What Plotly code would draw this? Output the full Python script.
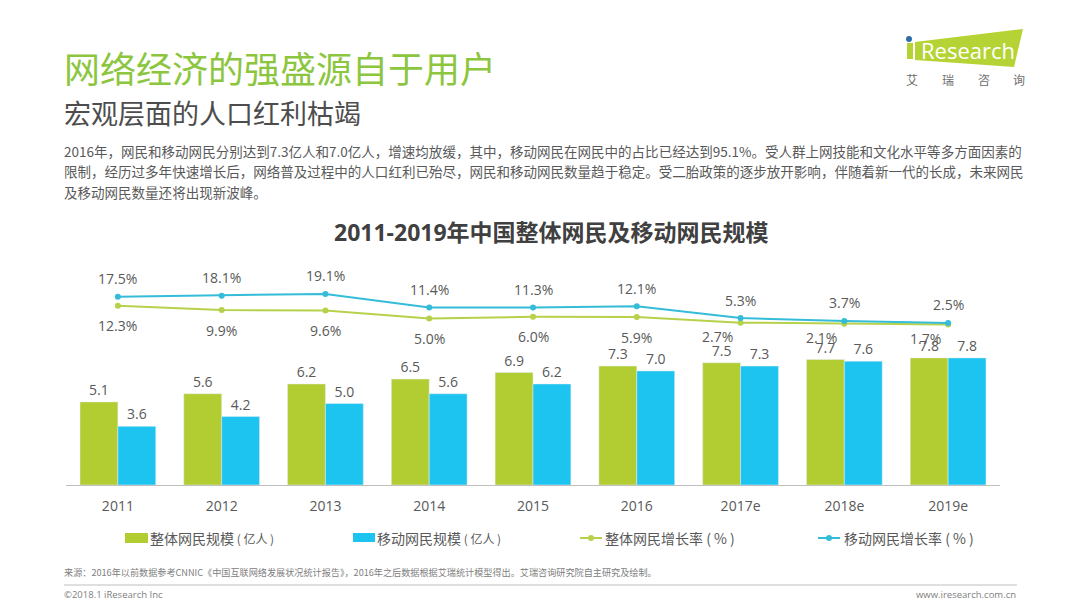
import plotly.graph_objects as go

years = ['2011', '2012', '2013', '2014', '2015', '2016', '2017e', '2018e', '2019e']
total_users = [5.1, 5.6, 6.2, 6.5, 6.9, 7.3, 7.5, 7.7, 7.8]
mobile_users = [3.6, 4.2, 5.0, 5.6, 6.2, 7.0, 7.3, 7.6, 7.8]
total_growth = [12.3, 9.9, 9.6, 5.0, 6.0, 5.9, 2.7, 2.1, 1.7]
mobile_growth = [17.5, 18.1, 19.1, 11.4, 11.3, 12.1, 5.3, 3.7, 2.5]

body_lines = [
    '2016年，网民和移动网民分别达到7.3亿人和7.0亿人，增速均放缓，其中，移动网民在网民中的占比已经达到95.1%。受人群上网技能和文化水平等多方面因素的',
    '限制，经历过多年快速增长后，网络普及过程中的人口红利已殆尽，网民和移动网民数量趋于稳定。受二胎政策的逐步放开影响，伴随着新一代的长成，未来网民',
    '及移动网民数量还将出现新波峰。',
]
legend_names = ['整体网民规模', '移动网民规模', '整体网民增长率', '移动网民增长率']

W, H = 1080, 608
FONT = 'Open Sans, Noto Sans CJK SC, sans-serif'
CJK = 'Noto Sans CJK SC, sans-serif'
GREEN = '#b2cd32'
CYAN = '#1ec4f0'
LINE_GREEN = '#b7d14b'
LINE_CYAN = '#35bcd9'
GREY = '#595959'


def px(x):
    return x / W


def py(y):
    return 1 - y / H


def label(x, y, text, size, color=GREY, anchor='left', family=FONT):
    fig.add_annotation(xref='paper', yref='paper', x=px(x), y=py(y), text=text, showarrow=False,
                       xanchor=anchor, yanchor='middle', font=dict(size=size, color=color, family=family))


def poly(points, color):
    path = 'M' + 'L'.join(f'{px(a):.5f},{py(b):.5f}' for a, b in points) + 'Z'
    fig.add_shape(type='path', xref='paper', yref='paper', path=path, fillcolor=color, line_width=0)


def rect(x0, y0, x1, y1, color):
    fig.add_shape(type='rect', xref='paper', yref='paper', x0=px(x0), x1=px(x1), y0=py(y0), y1=py(y1),
                  fillcolor=color, line_width=0)


fig = go.Figure()

# ------------ bars ------------------
fig.add_trace(go.Bar(x=years, y=total_users, marker_color=GREEN, text=total_users, texttemplate='%{text:.1f}',
                     textposition='outside', cliponaxis=False, textfont=dict(size=14, color=GREY, family=FONT)))
fig.add_trace(go.Bar(x=years, y=mobile_users, marker_color=CYAN, text=mobile_users, texttemplate='%{text:.1f}',
                     textposition='outside', cliponaxis=False, textfont=dict(size=14, color=GREY, family=FONT)))

# ------------ growth lines ------------------
fig.add_trace(go.Scatter(x=years, y=total_growth, yaxis='y2', mode='lines+markers',
                         line=dict(color=LINE_GREEN, width=2), marker=dict(color=LINE_GREEN, size=6)))
fig.add_trace(go.Scatter(x=years, y=mobile_growth, yaxis='y2', mode='lines+markers',
                         line=dict(color=LINE_CYAN, width=2), marker=dict(color=LINE_CYAN, size=6)))

# category position is the index here, strings like '2011' get read as numbers
for i, year in enumerate(years):
    fig.add_annotation(xref='x', yref='y2', x=i, y=mobile_growth[i], text=f'{mobile_growth[i]}%', showarrow=False,
                       yshift=18, font=dict(size=14, color=GREY, family=FONT))
    fig.add_annotation(xref='x', yref='y2', x=i, y=total_growth[i], text=f'{total_growth[i]:.1f}%', showarrow=False,
                       yshift=-14 if i >= 6 else -20, xshift=-23 if i >= 6 else 0,
                       font=dict(size=14, color=GREY, family=FONT))

# ------------ headings and body ------------------
label(62, 67, '网络经济的强盛源自于用户', 36, '#8cc63f', family=CJK)
label(62, 113, '宏观层面的人口红利枯竭', 27, '#4d4d4d', family=CJK)
for yy, line in zip([151, 171, 192], body_lines):
    label(62, yy, line, 13.53, '#595959', family=CJK)
label(551, 232, '<b>2011-2019年中国整体网民及移动网民规模</b>', 23, '#404040', anchor='center', family=FONT)

# ------------ legend ------------------
rect(125, 533, 148, 543, GREEN)
rect(353, 533, 375, 542, CYAN)
for x0, color in [(580, LINE_GREEN), (818, LINE_CYAN)]:
    fig.add_shape(type='line', xref='paper', yref='paper', x0=px(x0), x1=px(x0 + 22), y0=py(538), y1=py(538),
                  line=dict(color=color, width=2))
    fig.add_shape(type='circle', xref='paper', yref='paper', x0=px(x0 + 8), x1=px(x0 + 14), y0=py(541), y1=py(535),
                  fillcolor=color, line_width=0)
label(148, 538, legend_names[0] + '<span style="font-size:12px"> ( 亿人 )</span>', 14, family=CJK)
label(375, 538, legend_names[1] + '<span style="font-size:12px"> ( 亿人 )</span>', 14, family=CJK)
label(603, 538, legend_names[2] + ' ( % )', 14, family=CJK)
label(842, 538, legend_names[3] + ' ( % )', 14, family=CJK)

# ------------ footer ------------------
label(62, 572, '来源：2016年以前数据参考CNNIC《中国互联网络发展状况统计报告》，2016年之后数据根据艾瑞统计模型得出。艾瑞咨询研究院自主研究及绘制。',
      9.15, '#808080', family=CJK)
fig.add_shape(type='line', xref='paper', yref='paper', x0=px(64), x1=px(1017), y0=py(585), y1=py(585),
              line=dict(color='#bfbfbf', width=1))
label(62, 594, '©2018.1 iResearch Inc', 9.5, '#808080')
label(1018, 594, 'www.iresearch.com.cn', 9.5, '#808080', anchor='right')

# ------------ logo ------------------
poly([(915, 42), (1023, 29), (1014, 67), (915, 60)], '#b5d334')
rect(907, 43, 913, 59, '#b5d334')
fig.add_shape(type='circle', xref='paper', yref='paper', x0=px(906), x1=px(912), y0=py(42), y1=py(36),
              fillcolor='#2f6da8', line_width=0)
label(919, 50, 'Research', 22, '#ffffff')
for xx, ch in zip([912, 948, 984, 1019], '艾瑞咨询'):
    label(xx, 80, ch, 12, '#6e6e6e', anchor='center', family=CJK)

fig.update_layout(
    width=W, height=H, margin=dict(l=0, r=0, t=0, b=0), paper_bgcolor='white', plot_bgcolor='white',
    barmode='group', bargap=0.27, bargroupgap=0, showlegend=False,
    xaxis=dict(domain=[px(66), px(1000)], type='category', range=[-0.5, 8.5], showline=True, linecolor='#bfbfbf',
               ticks='', ticklabelstandoff=8, tickfont=dict(size=14, color=GREY, family=FONT), showgrid=False),
    yaxis=dict(domain=[py(485), py(265)], range=[0, 13.5], visible=False),
    yaxis2=dict(domain=[py(485), py(265)], range=[-90, 35.6], overlaying='y', visible=False),
)

fig.write_html("out.html", post_script="document.body.style.margin='0';", config=dict(displayModeBar=False))
